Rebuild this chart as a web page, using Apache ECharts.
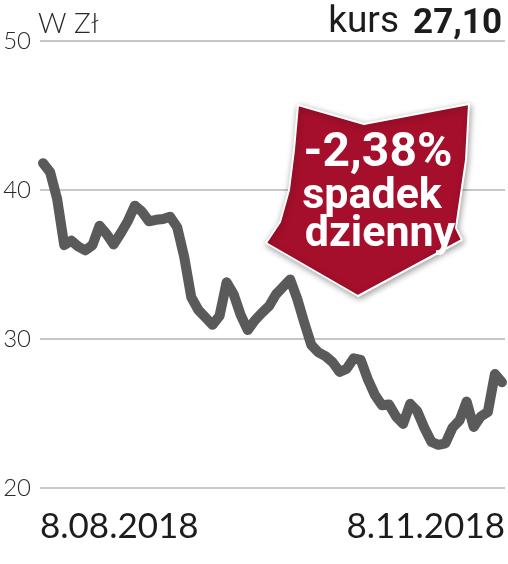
<!DOCTYPE html>
<html>
<head>
<meta charset="utf-8">
<script src="https://cdn.jsdelivr.net/npm/echarts@6/dist/echarts.min.js"></script>
<style>
html,body{margin:0;padding:0;background:#fff;}
#c{width:508px;height:564px;}
</style>
</head>
<body>
<div id="c"></div>
<script>
// Daily closing price (zł), 8.08.2018 – 8.11.2018
const prices = [
  41.8, 41.2, 39.4, 36.3, 36.6, 36.2, 35.95, 36.3, 37.6, 37.05,
  36.35, 37.1, 37.9, 38.95, 38.55, 37.9, 38.0, 38.05, 38.2, 37.5,
  35.5, 32.8, 31.95, 31.45, 30.95, 31.55, 33.8, 33.0, 31.6, 30.6,
  31.25, 31.75, 32.2, 33.0, 33.5, 34.0, 32.7, 31.1, 29.6, 29.1,
  28.85, 28.45, 27.8, 28.0, 28.7, 28.6, 27.3, 26.25, 25.55, 25.6,
  24.8, 24.3, 25.65, 25.15, 24.05, 23.1, 22.9, 23.0, 24.05, 24.55,
  25.8, 24.1, 24.8, 25.1, 27.65, 27.1
];
const dateLabels = ['8.08.2018', '8.11.2018'];
const yTicks = [20, 30, 40, 50];
const unitLabel = 'W Zł';
const lastLabel = 'kurs';
const lastValue = '27,10';
const changeLines = ['-2,38%', 'spadek', 'dzienny'];

const n = prices.length;
const seriesData = prices.map((v, i) => [i, v]);
const xMin = -0.43, xMax = n - 1 + 0.43;

const chart = echarts.init(document.getElementById('c'), null, {renderer: 'canvas'});
chart.setOption({
  animation: false,
  backgroundColor: '#fff',
  grid: {left: 40, right: 3, top: 41, bottom: 76, containLabel: false},
  xAxis: {
    type: 'value',
    min: xMin,
    max: xMax,
    axisLine: {show: false},
    axisTick: {show: false},
    splitLine: {show: false},
    axisLabel: {
      customValues: [xMin, xMax],
      formatter: (v) => (v < n / 2 ? dateLabels[0] : dateLabels[1]),
      alignMinLabel: 'left',
      alignMaxLabel: 'right',
      margin: 21,
      fontFamily: 'Lato',
      fontSize: 35,
      color: '#1c1c1c'
    }
  },
  yAxis: {
    type: 'value',
    min: yTicks[0],
    max: yTicks[yTicks.length - 1],
    interval: 10,
    axisLine: {show: false},
    axisTick: {show: false},
    splitLine: {lineStyle: {color: '#b4b4b4', width: 1.5}},
    axisLabel: {
      margin: 9,
      fontFamily: 'Lato',
      fontWeight: 300,
      fontSize: 24,
      color: '#2a2a2a'
    }
  },
  series: [{
    type: 'line',
    data: seriesData,
    symbol: 'none',
    lineStyle: {color: '#5a5a5a', width: 10, cap: 'round', join: 'round'},
    z: 3
  }],
  graphic: [
    {type: 'text', left: 38, top: 10, z: 10, style: {text: unitLabel, fontFamily: 'Lato', fontWeight: 300, fontSize: 28, fill: '#2a2a2a'}},
    {type: 'text', x: 502, y: 24, z: 10, style: {text: lastValue, textAlign: 'right', textVerticalAlign: 'middle', fontFamily: 'Roboto', fontWeight: 'bold', fontSize: 35, fill: '#1c1c1c'}},
    {type: 'text', x: 399, y: 23, z: 10, style: {text: lastLabel, textAlign: 'right', textVerticalAlign: 'middle', fontFamily: 'Roboto', fontSize: 37, fill: '#1c1c1c'}},
    {
      type: 'polygon', z: 20,
      shape: {points: [[298,105],[364,124],[469,104],[466,160],[456,228],[462,240],[358,296],[266,243],[280,222],[289,190],[294,150]]},
      style: {fill: '#a50f2b', stroke: '#ffffff', lineWidth: 2, lineJoin: 'round', shadowBlur: 6, shadowOffsetX: 1, shadowOffsetY: 2, shadowColor: 'rgba(0,0,0,0.35)'}
    },
    {type: 'text', x: 378, y: 154, z: 21, style: {text: changeLines[0], textAlign: 'center', textVerticalAlign: 'middle', fontFamily: 'Roboto', fontWeight: 'bold', fontSize: 48, fill: '#ffffff'}},
    {type: 'text', x: 372, y: 197, z: 21, style: {text: changeLines[1], textAlign: 'center', textVerticalAlign: 'middle', fontFamily: 'Roboto', fontWeight: 'bold', fontSize: 43, fill: '#ffffff'}},
    {type: 'text', x: 380, y: 235, z: 21, style: {text: changeLines[2], textAlign: 'center', textVerticalAlign: 'middle', fontFamily: 'Roboto', fontWeight: 'bold', fontSize: 43, fill: '#ffffff'}}
  ]
});
</script>
</body>
</html>
